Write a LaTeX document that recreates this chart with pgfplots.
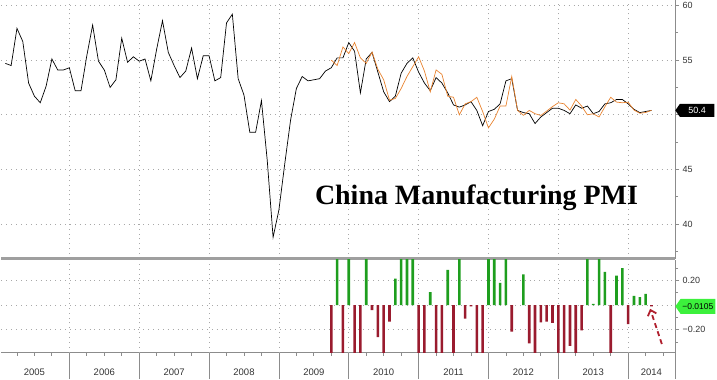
\documentclass[border=0pt]{standalone}
\usepackage{fontspec}
\setmainfont{Liberation Serif}
\newfontfamily\sansf{Liberation Sans}
\usepackage{pgfplots}
\pgfplotsset{compat=1.18}
\usetikzlibrary{shapes.symbols,arrows.meta}
\definecolor{pmiorange}{HTML}{E8822E}
\definecolor{bargreen}{HTML}{1E9E1E}
\definecolor{barred}{HTML}{9A1B2E}
\definecolor{gridgray}{HTML}{A8A8A8}
\definecolor{axgray}{HTML}{8C8C8C}
\definecolor{labgray}{HTML}{333333}
\definecolor{taggreen}{HTML}{3CF03C}
\definecolor{arrowred}{HTML}{B0202E}
\begin{document}
\begin{tikzpicture}[x=1pt,y=1pt]
\pgfplotsset{
  every axis/.append style={
    scale only axis, width=675pt,
    xmin=0.343, xmax=116.06,
    axis y line=right, axis x line=bottom,
    major x tick style=transparent,
    ymajorgrids,
    major grid style={gridgray, line width=0.7pt, dash pattern=on 0.9pt off 4pt},
    tick align=outside, major tick length=4pt, minor tick length=3pt,
    every tick/.append style={axgray, line width=0.8pt},
    y axis line style={-, draw=axgray, line width=0.8pt},
    yticklabel style={font=\sansf\fontsize{9}{10}\selectfont, text=labgray, inner ysep=0.5pt},
    /pgf/number format/assume math mode=true,
  }
}
% ---------- top panel ----------
\begin{axis}[name=top, height=259pt,
  ymin=36.83, ymax=60.456,
  ytick={40,45,50,55,60}, yticklabels={40,45,,55,60},
  minor ytick={37.5,42.5,47.5,52.5,57.5},
  xtick={12,24,...,108}, xticklabels={}, xmajorgrids,
  x axis line style={-, draw=gray!75, line width=3pt},
  clip=false]
\addplot[black, line width=0.7pt] coordinates {
(1,54.7)(2,54.5)(3,57.9)(4,56.7)(5,52.9)(6,51.7)(7,51.1)(8,52.6)(9,55.1)(10,54.1)(11,54.1)(12,54.3)
(13,52.2)(14,52.2)(15,55.4)(16,58.2)(17,54.9)(18,54.1)(19,52.5)(20,53.2)(21,57.0)(22,54.8)(23,55.3)(24,54.9)
(25,55.1)(26,53.1)(27,56.0)(28,58.6)(29,55.7)(30,54.5)(31,53.4)(32,54.0)(33,56.1)(34,53.3)(35,55.4)(36,55.4)
(37,53.1)(38,53.4)(39,58.4)(40,59.2)(41,53.3)(42,51.8)(43,48.4)(44,48.4)(45,51.3)(46,45.8)(47,38.8)(48,41.3)
(49,45.5)(50,49.5)(51,52.4)(52,53.5)(53,53.1)(54,53.2)(55,53.3)(56,54.0)(57,54.3)(58,55.2)(59,55.2)(60,56.6)
(61,55.8)(62,52.0)(63,55.1)(64,55.7)(65,53.9)(66,52.1)(67,51.2)(68,51.7)(69,53.8)(70,54.7)(71,55.2)(72,53.9)
(73,52.9)(74,52.2)(75,53.4)(76,52.9)(77,52.0)(78,50.9)(79,50.7)(80,50.9)(81,51.2)(82,50.4)(83,49.0)(84,50.3)
(85,50.5)(86,51.0)(87,53.1)(88,53.3)(89,50.4)(90,50.2)(91,50.1)(92,49.2)(93,49.8)(94,50.2)(95,50.6)(96,50.6)
(97,50.4)(98,50.1)(99,50.9)(100,50.6)(101,50.8)(102,50.1)(103,50.3)(104,51.0)(105,51.1)(106,51.4)(107,51.4)(108,51.0)
(109,50.5)(110,50.2)(111,50.3)(112,50.4)
};
\addplot[pmiorange, line width=0.7pt] coordinates {
(57,55.0)(58,54.5)(59,56.2)(60,55.6)(61,56.6)(62,55.2)(63,54.7)(64,55.74)(65,54.16)(66,53.2)(67,51.33)(68,51.49)
(69,52.4)(70,53.5)(71,54.4)(72,55.3)(73,54.0)(74,52.1)(75,54.1)(76,53.7)(77,51.7)(78,51.6)(79,50.0)(80,51.0)
(81,51.2)(82,51.6)(83,50.3)(84,48.8)(85,49.6)(86,50.8)(87,50.8)(88,53.5)(89,50.4)(90,49.95)(91,50.4)(92,50.1)
(93,49.94)(94,50.34)(95,50.75)(96,51.1)(97,51.0)(98,50.43)(99,51.4)(100,50.8)(101,50.0)(102,50.09)(103,49.8)
(104,50.73)(105,51.6)(106,51.16)(107,51.1)(108,51.15)(109,50.43)(110,50.14)(111,50.21)(112,50.41)
};
\node[signal, signal to=west, signal pointer angle=110, fill=black, text=white,
  font=\sansf\fontsize{9}{10}\selectfont, inner xsep=2pt, inner ysep=1.5pt,
  minimum height=13pt, minimum width=39pt, anchor=west] at (axis cs:116.06,50.4) {50.4};
\node[font=\fontsize{28}{30}\selectfont\bfseries, anchor=base] at (axis cs:81.94,41.8) {China Manufacturing PMI};
\coordinate (TSW) at (rel axis cs:0,0);
\end{axis}
% ---------- bottom panel ----------
\begin{axis}[at={(TSW)}, anchor=north west, yshift=-1pt, height=93pt,
  ymin=-0.386, ymax=0.367,
  ytick={-0.2,0,0.2}, yticklabels={−0.20,,0.20},
  minor ytick={-0.3,-0.1,0.1,0.3},
  xtick={6,18,30,42,54,66,78,90,102,112},
  xticklabels={2005,2006,2007,2008,2009,2010,2011,2012,2013,2014},
  xticklabel style={font=\sansf\fontsize{9.5}{10}\selectfont, text=labgray, anchor=center, yshift=-16pt},
  extra x ticks={12,24,...,108}, extra x tick labels={},
  extra x tick style={grid=major},
  minor xtick={3,6,...,114},
  x axis line style={-, draw=axgray, line width=0.8pt},
  clip mode=individual]
\addplot[ybar, bar width=2.6pt, bar shift=0pt, fill=bargreen, draw=none] coordinates {
(58,0.5)(60,0.5)(63,0.5)(68,0.215)(69,0.5)(70,0.5)(71,0.5)(74,0.105)(77,0.285)(79,0.5)
(84,0.5)(85,0.5)(86,0.18)(87,0.5)(90,0.25)(101,0.5)(102,0.01)(103,0.5)(104,0.27)(106,0.24)
(107,0.30)(109,0.075)(110,0.065)(111,0.09)
};
\addplot[ybar, bar width=2.6pt, bar shift=0pt, fill=barred, draw=none] coordinates {
(57,-0.5)(59,-0.5)(61,-0.5)(62,-0.5)(64,-0.04)(65,-0.26)(66,-0.5)(67,-0.135)(72,-0.5)(73,-0.5)
(75,-0.5)(76,-0.5)(78,-0.5)(80,-0.11)(81,-0.01)(82,-0.5)(83,-0.5)(88,-0.215)(91,-0.31)(92,-0.5)
(93,-0.14)(94,-0.135)(95,-0.145)(96,-0.5)(97,-0.5)(98,-0.33)(99,-0.5)(100,-0.205)(105,-0.5)
(108,-0.155)(112,-0.0105)
};
\draw[arrowred, line width=1.8pt, dash pattern=on 5pt off 3.5pt, -{Straight Barb[length=5pt,width=9pt]}]
  (axis cs:113.78,-0.316) -- (axis cs:111.77,-0.03);
\node[signal, signal to=west, signal pointer angle=110, fill=taggreen, text=black,
  font=\sansf\fontsize{8.5}{10}\selectfont, inner xsep=1.5pt, inner ysep=1.5pt,
  minimum height=15pt, minimum width=40pt, anchor=west] at (axis cs:116.06,-0.0105) {−0.0105};
\pgfplotsinvokeforeach{12,24,36,48,60,72,84,96,108}{
  \draw[axgray, line width=0.8pt] (axis cs:#1,-0.386) -- ++(0pt,-26pt);
}
\draw[axgray, line width=0.8pt] (axis cs:116.06,-0.386) -- ++(0pt,-26pt);
\end{axis}
\path (TSW) ++(0,-120) rectangle ++(717,379);
\end{tikzpicture}
\end{document}
